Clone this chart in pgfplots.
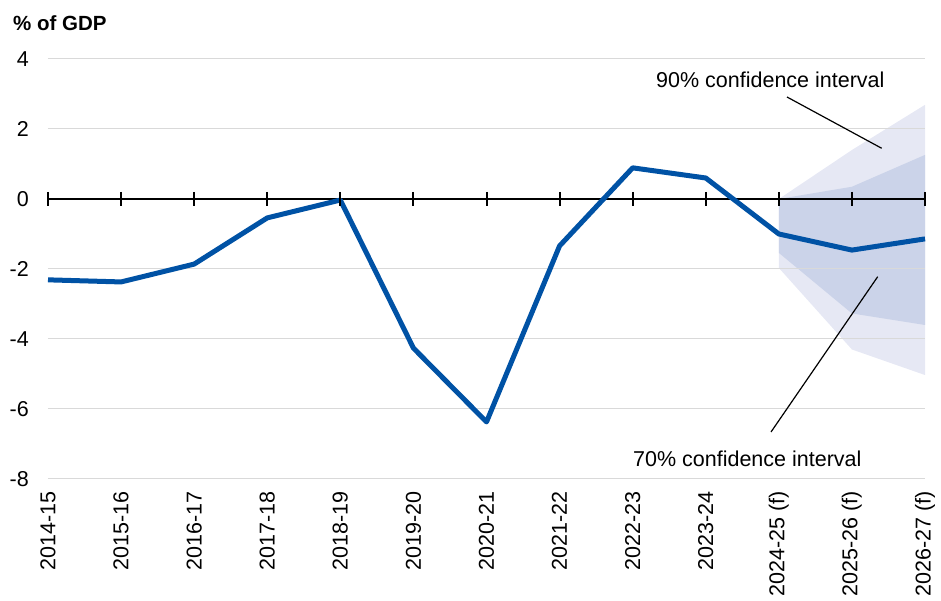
\documentclass[border=0pt]{standalone}
\usepackage{pgfplots}
\pgfplotsset{compat=1.18}
\usepackage{fontspec}
\setmainfont{Liberation Sans}
\definecolor{lineblue}{RGB}{0,82,165}
\definecolor{fanlight}{RGB}{230,232,244}
\definecolor{fandark}{RGB}{203,211,233}
\definecolor{gridgray}{RGB}{217,217,217}
\begin{document}
\fontsize{21.5bp}{25bp}\selectfont
\begin{tikzpicture}[x=1bp,y=1bp]
\useasboundingbox (-48,-122) rectangle (893,479);
\begin{axis}[
  at={(0,0)}, anchor=south west,
  scale only axis, width=877bp, height=420bp,
  xmin=0, xmax=12, ymin=-8, ymax=4,
  axis line style={draw=none},
  major tick length=0pt,
  xtick={0,1,2,3,4,5,6,7,8,9,10,11,12},
  xticklabels={2014-15,2015-16,2016-17,2017-18,2018-19,2019-20,2020-21,2021-22,2022-23,2023-24,2024-25 (f),2025-26 (f),2026-27 (f)},
  ytick={-8,-6,-4,-2,0,2,4},
  yticklabels={-8,-6,-4,-2,0,2,4},
  tick label style={font=\fontsize{21.5bp}{25bp}\selectfont},
  xticklabel style={rotate=90, anchor=east, inner sep=0pt},
  yticklabel style={anchor=east, inner sep=0pt},
  xticklabel shift=12bp,
  yticklabel shift=19bp,
  clip=false,
]
% 90% interval
\addplot[fill=fanlight, draw=none, forget plot] coordinates {(10,0) (11,1.4) (12,2.69) (12,-5.03) (11,-4.3) (10,-1.97)} -- cycle;
% 70% interval
\addplot[fill=fandark, draw=none, forget plot] coordinates {(10,0) (11,0.35) (12,1.26) (12,-3.6) (11,-3.27) (10,-1.54)} -- cycle;
% grid lines
\addplot[gridgray, line width=1bp, forget plot] coordinates {(0,4) (12,4)};
\addplot[gridgray, line width=1bp, forget plot] coordinates {(0,2) (12,2)};
\addplot[gridgray, line width=1bp, forget plot] coordinates {(0,-2) (12,-2)};
\addplot[gridgray, line width=1bp, forget plot] coordinates {(0,-4) (12,-4)};
\addplot[gridgray, line width=1bp, forget plot] coordinates {(0,-6) (12,-6)};
\addplot[gridgray, line width=1bp, forget plot] coordinates {(0,-8) (12,-8)};
% zero axis with ticks
\addplot[black, line width=2bp, mark=|, mark size=7bp, mark options={line width=2bp}, forget plot] coordinates {(0,0) (1,0) (2,0) (3,0) (4,0) (5,0) (6,0) (7,0) (8,0) (9,0) (10,0) (11,0) (12,0)};
% outturn and forecast
\addplot[lineblue, line width=5bp, line join=round, forget plot] coordinates {
(0,-2.31) (1,-2.37) (2,-1.86) (3,-0.54) (4,-0.03) (5,-4.26) (6,-6.37) (7,-1.34) (8,0.89) (9,0.6) (10,-1.0) (11,-1.46) (12,-1.14)};
\end{axis}
\draw[black, line width=1.2bp] (739,382) -- (833.7,330.7);
\draw[black, line width=1.2bp] (829.7,202.3) -- (723,47);
\node[anchor=base west, inner sep=0pt] at (608,391.7) {90\% confidence interval};
\node[anchor=base west, inner sep=0pt] at (585,12.3) {70\% confidence interval};
\node[anchor=base west, inner sep=0pt, font=\fontsize{20.5bp}{24bp}\selectfont\bfseries] at (-35,448) {\% of GDP};
\end{tikzpicture}
\end{document}
